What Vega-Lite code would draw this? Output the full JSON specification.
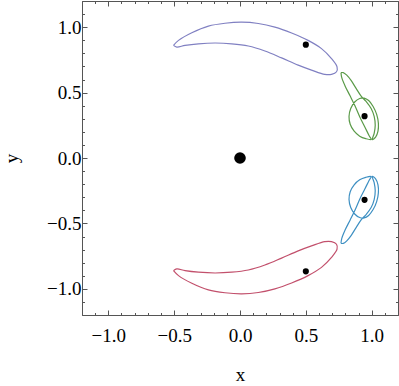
{
  "$schema": "https://vega.github.io/schema/vega-lite/v6.json",
  "width": 316,
  "height": 314,
  "autosize": {"type": "none"},
  "padding": {"left": 82, "top": 1, "right": 1, "bottom": 71},
  "background": "white",
  "config": {
    "view": {"stroke": null},
    "font": "Liberation Serif",
    "axis": {
      "grid": false,
      "domainColor": "#555555",
      "tickColor": "#555555",
      "labelColor": "black",
      "titleColor": "black",
      "labelFont": "Liberation Serif",
      "titleFont": "Liberation Serif",
      "labelFontSize": 19,
      "titleFontSize": 19,
      "titleFontWeight": "normal",
      "labelOverlap": false,
      "labelFlush": false,
      "labelBound": false
    }
  },
  "datasets": {
    "curves": [
      {"s": "purple", "i": 0, "x": -0.505, "y": 0.861},
      {"s": "purple", "i": 1, "x": -0.467, "y": 0.899},
      {"s": "purple", "i": 2, "x": -0.366, "y": 0.957},
      {"s": "purple", "i": 3, "x": -0.240, "y": 1.008},
      {"s": "purple", "i": 4, "x": -0.114, "y": 1.030},
      {"s": "purple", "i": 5, "x": 0.013, "y": 1.038},
      {"s": "purple", "i": 6, "x": 0.139, "y": 1.028},
      {"s": "purple", "i": 7, "x": 0.265, "y": 1.000},
      {"s": "purple", "i": 8, "x": 0.392, "y": 0.955},
      {"s": "purple", "i": 9, "x": 0.517, "y": 0.899},
      {"s": "purple", "i": 10, "x": 0.619, "y": 0.836},
      {"s": "purple", "i": 11, "x": 0.695, "y": 0.760},
      {"s": "purple", "i": 12, "x": 0.737, "y": 0.697},
      {"s": "purple", "i": 13, "x": 0.733, "y": 0.659},
      {"s": "purple", "i": 14, "x": 0.695, "y": 0.639},
      {"s": "purple", "i": 15, "x": 0.644, "y": 0.639},
      {"s": "purple", "i": 16, "x": 0.543, "y": 0.672},
      {"s": "purple", "i": 17, "x": 0.442, "y": 0.710},
      {"s": "purple", "i": 18, "x": 0.316, "y": 0.765},
      {"s": "purple", "i": 19, "x": 0.189, "y": 0.818},
      {"s": "purple", "i": 20, "x": 0.063, "y": 0.856},
      {"s": "purple", "i": 21, "x": -0.063, "y": 0.873},
      {"s": "purple", "i": 22, "x": -0.189, "y": 0.879},
      {"s": "purple", "i": 23, "x": -0.316, "y": 0.873},
      {"s": "purple", "i": 24, "x": -0.417, "y": 0.861},
      {"s": "purple", "i": 25, "x": -0.480, "y": 0.848},
      {"s": "purple", "i": 26, "x": -0.505, "y": 0.861},

      {"s": "red", "i": 0, "x": -0.505, "y": -0.861},
      {"s": "red", "i": 1, "x": -0.467, "y": -0.899},
      {"s": "red", "i": 2, "x": -0.366, "y": -0.957},
      {"s": "red", "i": 3, "x": -0.240, "y": -1.008},
      {"s": "red", "i": 4, "x": -0.114, "y": -1.030},
      {"s": "red", "i": 5, "x": 0.013, "y": -1.038},
      {"s": "red", "i": 6, "x": 0.139, "y": -1.028},
      {"s": "red", "i": 7, "x": 0.265, "y": -1.000},
      {"s": "red", "i": 8, "x": 0.392, "y": -0.955},
      {"s": "red", "i": 9, "x": 0.517, "y": -0.899},
      {"s": "red", "i": 10, "x": 0.619, "y": -0.836},
      {"s": "red", "i": 11, "x": 0.695, "y": -0.760},
      {"s": "red", "i": 12, "x": 0.737, "y": -0.697},
      {"s": "red", "i": 13, "x": 0.733, "y": -0.659},
      {"s": "red", "i": 14, "x": 0.695, "y": -0.639},
      {"s": "red", "i": 15, "x": 0.644, "y": -0.639},
      {"s": "red", "i": 16, "x": 0.543, "y": -0.672},
      {"s": "red", "i": 17, "x": 0.442, "y": -0.710},
      {"s": "red", "i": 18, "x": 0.316, "y": -0.765},
      {"s": "red", "i": 19, "x": 0.189, "y": -0.818},
      {"s": "red", "i": 20, "x": 0.063, "y": -0.856},
      {"s": "red", "i": 21, "x": -0.063, "y": -0.873},
      {"s": "red", "i": 22, "x": -0.189, "y": -0.879},
      {"s": "red", "i": 23, "x": -0.316, "y": -0.873},
      {"s": "red", "i": 24, "x": -0.417, "y": -0.861},
      {"s": "red", "i": 25, "x": -0.480, "y": -0.848},
      {"s": "red", "i": 26, "x": -0.505, "y": -0.861},

      {"s": "green", "i": 0, "x": 0.767, "y": 0.652},
      {"s": "green", "i": 1, "x": 0.773, "y": 0.614},
      {"s": "green", "i": 2, "x": 0.798, "y": 0.551},
      {"s": "green", "i": 3, "x": 0.836, "y": 0.475},
      {"s": "green", "i": 4, "x": 0.873, "y": 0.399},
      {"s": "green", "i": 5, "x": 0.911, "y": 0.311},
      {"s": "green", "i": 6, "x": 0.949, "y": 0.235},
      {"s": "green", "i": 7, "x": 0.981, "y": 0.170},
      {"s": "green", "i": 8, "x": 0.996, "y": 0.142},
      {"s": "green", "i": 9, "x": 0.955, "y": 0.148},
      {"s": "green", "i": 10, "x": 0.909, "y": 0.167},
      {"s": "green", "i": 11, "x": 0.867, "y": 0.205},
      {"s": "green", "i": 12, "x": 0.837, "y": 0.258},
      {"s": "green", "i": 13, "x": 0.828, "y": 0.318},
      {"s": "green", "i": 14, "x": 0.841, "y": 0.379},
      {"s": "green", "i": 15, "x": 0.871, "y": 0.428},
      {"s": "green", "i": 16, "x": 0.909, "y": 0.455},
      {"s": "green", "i": 17, "x": 0.943, "y": 0.458},
      {"s": "green", "i": 18, "x": 0.977, "y": 0.439},
      {"s": "green", "i": 19, "x": 1.011, "y": 0.394},
      {"s": "green", "i": 20, "x": 1.038, "y": 0.333},
      {"s": "green", "i": 21, "x": 1.051, "y": 0.265},
      {"s": "green", "i": 22, "x": 1.048, "y": 0.205},
      {"s": "green", "i": 23, "x": 1.030, "y": 0.159},
      {"s": "green", "i": 24, "x": 1.004, "y": 0.140},
      {"s": "green", "i": 25, "x": 1.019, "y": 0.189},
      {"s": "green", "i": 26, "x": 1.027, "y": 0.250},
      {"s": "green", "i": 27, "x": 1.019, "y": 0.318},
      {"s": "green", "i": 28, "x": 0.996, "y": 0.379},
      {"s": "green", "i": 29, "x": 0.958, "y": 0.432},
      {"s": "green", "i": 30, "x": 0.920, "y": 0.473},
      {"s": "green", "i": 31, "x": 0.883, "y": 0.530},
      {"s": "green", "i": 32, "x": 0.845, "y": 0.591},
      {"s": "green", "i": 33, "x": 0.811, "y": 0.633},
      {"s": "green", "i": 34, "x": 0.784, "y": 0.653},
      {"s": "green", "i": 35, "x": 0.767, "y": 0.652},

      {"s": "blue", "i": 0, "x": 0.767, "y": -0.652},
      {"s": "blue", "i": 1, "x": 0.773, "y": -0.614},
      {"s": "blue", "i": 2, "x": 0.798, "y": -0.551},
      {"s": "blue", "i": 3, "x": 0.836, "y": -0.475},
      {"s": "blue", "i": 4, "x": 0.873, "y": -0.399},
      {"s": "blue", "i": 5, "x": 0.911, "y": -0.311},
      {"s": "blue", "i": 6, "x": 0.949, "y": -0.235},
      {"s": "blue", "i": 7, "x": 0.981, "y": -0.170},
      {"s": "blue", "i": 8, "x": 0.996, "y": -0.142},
      {"s": "blue", "i": 9, "x": 0.955, "y": -0.148},
      {"s": "blue", "i": 10, "x": 0.909, "y": -0.167},
      {"s": "blue", "i": 11, "x": 0.867, "y": -0.205},
      {"s": "blue", "i": 12, "x": 0.837, "y": -0.258},
      {"s": "blue", "i": 13, "x": 0.828, "y": -0.318},
      {"s": "blue", "i": 14, "x": 0.841, "y": -0.379},
      {"s": "blue", "i": 15, "x": 0.871, "y": -0.428},
      {"s": "blue", "i": 16, "x": 0.909, "y": -0.455},
      {"s": "blue", "i": 17, "x": 0.943, "y": -0.458},
      {"s": "blue", "i": 18, "x": 0.977, "y": -0.439},
      {"s": "blue", "i": 19, "x": 1.011, "y": -0.394},
      {"s": "blue", "i": 20, "x": 1.038, "y": -0.333},
      {"s": "blue", "i": 21, "x": 1.051, "y": -0.265},
      {"s": "blue", "i": 22, "x": 1.048, "y": -0.205},
      {"s": "blue", "i": 23, "x": 1.030, "y": -0.159},
      {"s": "blue", "i": 24, "x": 1.004, "y": -0.140},
      {"s": "blue", "i": 25, "x": 1.019, "y": -0.189},
      {"s": "blue", "i": 26, "x": 1.027, "y": -0.250},
      {"s": "blue", "i": 27, "x": 1.019, "y": -0.318},
      {"s": "blue", "i": 28, "x": 0.996, "y": -0.379},
      {"s": "blue", "i": 29, "x": 0.958, "y": -0.432},
      {"s": "blue", "i": 30, "x": 0.920, "y": -0.473},
      {"s": "blue", "i": 31, "x": 0.883, "y": -0.530},
      {"s": "blue", "i": 32, "x": 0.845, "y": -0.591},
      {"s": "blue", "i": 33, "x": 0.811, "y": -0.633},
      {"s": "blue", "i": 34, "x": 0.784, "y": -0.653},
      {"s": "blue", "i": 35, "x": 0.767, "y": -0.652}
    ],
    "dots": [
      {"x": 0, "y": 0, "r": "big"},
      {"x": 0.5, "y": 0.866, "r": "small"},
      {"x": 0.5, "y": -0.866, "r": "small"},
      {"x": 0.946, "y": 0.32, "r": "small"},
      {"x": 0.946, "y": -0.32, "r": "small"}
    ]
  },
  "layer": [
    {
      "data": {"name": "curves"},
      "mark": {"type": "line", "interpolate": "catmull-rom", "strokeWidth": 1.2},
      "encoding": {
        "x": {
          "field": "x", "type": "quantitative",
          "scale": {"domain": [-1.2, 1.2], "nice": false, "zero": false},
          "axis": {
            "orient": "bottom", "title": "x", "titlePadding": 18,
            "values": [-1.2, -1.1, -1.0, -0.9, -0.8, -0.7, -0.6, -0.5, -0.4, -0.3, -0.2, -0.1, 0, 0.1, 0.2, 0.3, 0.4, 0.5, 0.6, 0.7, 0.8, 0.9, 1.0, 1.1, 1.2],
            "tickSize": {"condition": {"test": "abs(round(datum.value*10))%5==0", "value": -5}, "value": -2.5},
            "labelPadding": 16,
            "labelExpr": "abs(round(datum.value*10))%5==0 ? (datum.value<0 ? '−' : '') + format(abs(datum.value), '.1f') : ''"
          }
        },
        "y": {
          "field": "y", "type": "quantitative",
          "scale": {"domain": [-1.2, 1.2], "nice": false, "zero": false},
          "axis": {
            "orient": "left", "title": "y", "titlePadding": 25,
            "values": [-1.2, -1.1, -1.0, -0.9, -0.8, -0.7, -0.6, -0.5, -0.4, -0.3, -0.2, -0.1, 0, 0.1, 0.2, 0.3, 0.4, 0.5, 0.6, 0.7, 0.8, 0.9, 1.0, 1.1, 1.2],
            "tickSize": {"condition": {"test": "abs(round(datum.value*10))%5==0", "value": -5}, "value": -2.5},
            "labelPadding": 6,
            "labelExpr": "abs(round(datum.value*10))%5==0 ? (datum.value<0 ? '−' : '') + format(abs(datum.value), '.1f') : ''"
          }
        },
        "color": {
          "field": "s", "type": "nominal",
          "scale": {"domain": ["purple", "green", "blue", "red"], "range": ["#8080c2", "#5a9a48", "#3d8fc2", "#c2506c"]},
          "legend": null
        },
        "order": {"field": "i", "type": "quantitative"}
      }
    },
    {
      "data": {"name": "dots"},
      "mark": {"type": "circle", "color": "black", "opacity": 1},
      "encoding": {
        "x": {
          "field": "x", "type": "quantitative",
          "axis": {
            "orient": "top", "title": null, "labels": false,
            "values": [-1.2, -1.1, -1.0, -0.9, -0.8, -0.7, -0.6, -0.5, -0.4, -0.3, -0.2, -0.1, 0, 0.1, 0.2, 0.3, 0.4, 0.5, 0.6, 0.7, 0.8, 0.9, 1.0, 1.1, 1.2],
            "tickSize": {"condition": {"test": "abs(round(datum.value*10))%5==0", "value": -5}, "value": -2.5}
          }
        },
        "y": {
          "field": "y", "type": "quantitative",
          "axis": {
            "orient": "right", "title": null, "labels": false,
            "values": [-1.2, -1.1, -1.0, -0.9, -0.8, -0.7, -0.6, -0.5, -0.4, -0.3, -0.2, -0.1, 0, 0.1, 0.2, 0.3, 0.4, 0.5, 0.6, 0.7, 0.8, 0.9, 1.0, 1.1, 1.2],
            "tickSize": {"condition": {"test": "abs(round(datum.value*10))%5==0", "value": -5}, "value": -2.5}
          }
        },
        "size": {
          "field": "r", "type": "nominal",
          "scale": {"domain": ["big", "small"], "range": [135, 38]},
          "legend": null
        }
      }
    }
  ],
  "resolve": {"axis": {"x": "independent", "y": "independent"}}
}
